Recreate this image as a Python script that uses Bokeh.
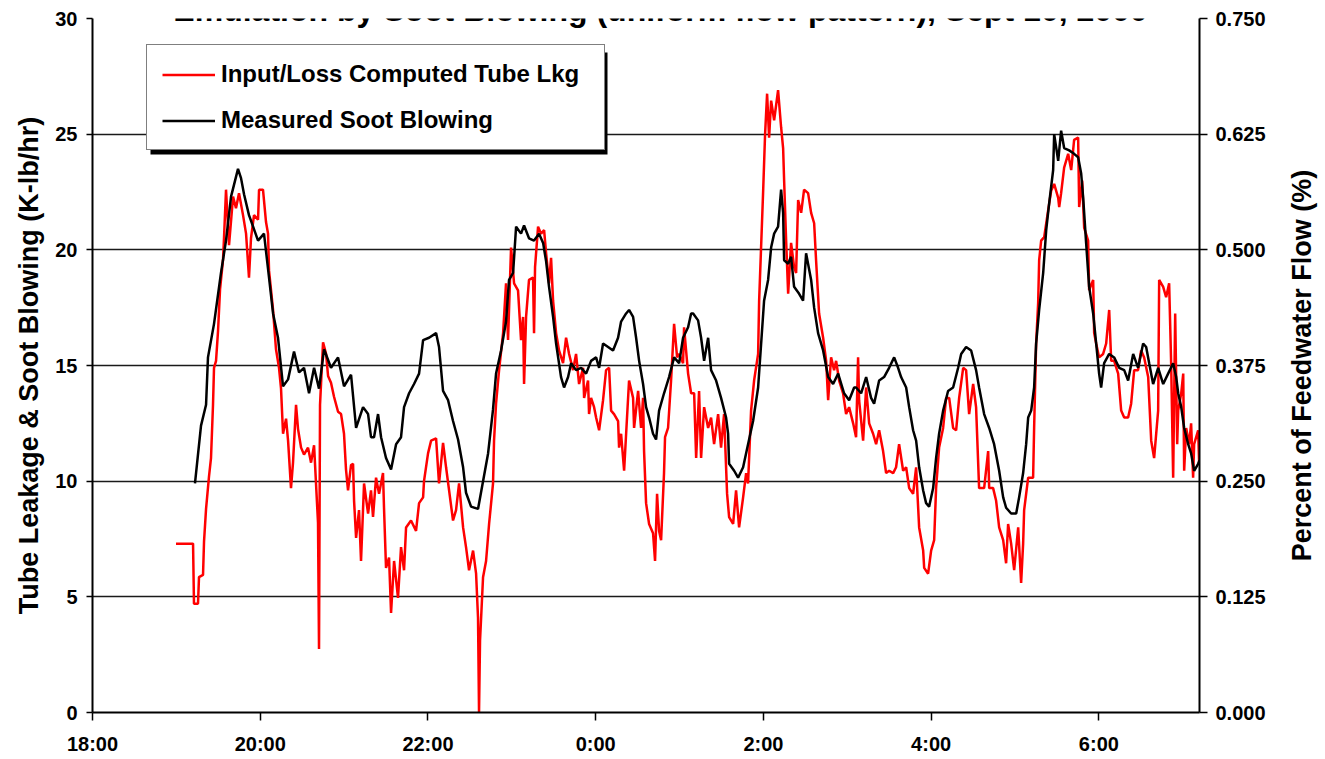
import math
from bokeh.plotting import figure
from bokeh.layouts import row
from bokeh.models import (Range1d, LinearAxis, FixedTicker, PrintfTickFormatter,
                          Legend, LegendItem, BoxAnnotation, Label, ColumnDataSource)
from bokeh.embed import file_html
from bokeh.resources import INLINE

# ---------------- data ----------------
# time axis: hours after 18:00 (Sept 10), ticks every 2 hours
x_tick_hours = [0, 2, 4, 6, 8, 10, 12]
x_tick_labels = ["18:00", "20:00", "22:00", "0:00", "2:00", "4:00", "6:00"]
left_ticks = [0, 5, 10, 15, 20, 25, 30]
right_ticks = [0.0, 0.125, 0.25, 0.375, 0.5, 0.625, 0.75]

# Input/Loss Computed Tube Lkg (K-lb/hr)
red_hours = [
    0.996, 1.199, 1.210, 1.258, 1.270, 1.318, 1.330, 1.354, 1.389, 1.413,
    1.437, 1.449, 1.473, 1.497, 1.521, 1.556, 1.568, 1.592, 1.628, 1.676,
    1.711, 1.747, 1.795, 1.831, 1.866, 1.890, 1.926, 1.974, 1.986, 2.033,
    2.069, 2.093, 2.105, 2.153, 2.188, 2.224, 2.248, 2.272, 2.308, 2.332,
    2.367, 2.391, 2.427, 2.451, 2.487, 2.522, 2.570, 2.606, 2.642, 2.689,
    2.701, 2.713, 2.749, 2.785, 2.809, 2.844, 2.880, 2.928, 2.964, 2.999,
    3.023, 3.047, 3.083,
    3.107, 3.119, 3.143, 3.178, 3.202, 3.238, 3.286, 3.321, 3.345, 3.381,
    3.417, 3.464, 3.476, 3.500, 3.536, 3.560, 3.596, 3.643, 3.679, 3.715,
    3.739, 3.798, 3.858, 3.894, 3.942, 3.953, 4.001, 4.037, 4.097, 4.132,
    4.180, 4.216, 4.252, 4.299, 4.335, 4.371, 4.419, 4.454, 4.490, 4.538,
    4.574, 4.597, 4.609, 4.621, 4.657, 4.693, 4.729, 4.776, 4.788, 4.812,
    4.848, 4.896, 4.931, 4.955, 4.991, 5.027, 5.074, 5.110,
    5.134, 5.146, 5.170, 5.205, 5.253, 5.265, 5.277, 5.313, 5.349, 5.385,
    5.409, 5.444, 5.468, 5.492, 5.528, 5.563, 5.611, 5.647, 5.683, 5.730,
    5.766, 5.802, 5.850, 5.862, 5.909, 5.921, 5.945, 5.981, 6.005, 6.041,
    6.088, 6.124, 6.160, 6.184, 6.219, 6.267, 6.279, 6.303, 6.339, 6.363,
    6.398, 6.446, 6.458, 6.506, 6.541, 6.565, 6.577, 6.601, 6.637, 6.684,
    6.708, 6.732, 6.756, 6.780, 6.815, 6.827, 6.863, 6.899, 6.935, 6.971,
    6.995, 7.042, 7.054, 7.102, 7.138,
    7.174, 7.198, 7.233, 7.257, 7.293, 7.341, 7.376, 7.412, 7.460, 7.495,
    7.531, 7.567, 7.591, 7.639, 7.674, 7.710, 7.758, 7.794, 7.817, 7.853,
    7.889, 7.937, 7.949, 7.996, 8.020, 8.044, 8.068, 8.092, 8.128, 8.175,
    8.211, 8.235, 8.247, 8.271, 8.295, 8.330, 8.366, 8.390, 8.414, 8.450,
    8.485, 8.533, 8.569, 8.605, 8.628, 8.664, 8.712, 8.748, 8.772, 8.807,
    8.843, 8.867, 8.903, 8.950, 8.986, 9.022, 9.070, 9.105,
    9.129, 9.141, 9.189, 9.225, 9.261, 9.308, 9.344, 9.380, 9.427, 9.463,
    9.499, 9.547, 9.582, 9.618, 9.666, 9.702, 9.738, 9.785, 9.821, 9.857,
    9.905, 9.917, 9.964, 10.000, 10.036, 10.059, 10.095, 10.143, 10.179, 10.215,
    10.262, 10.298, 10.334, 10.382, 10.417, 10.453, 10.501, 10.536, 10.572, 10.632,
    10.680, 10.692, 10.739, 10.775, 10.811, 10.859, 10.894, 10.918, 10.954, 10.990,
    11.038, 11.073, 11.097, 11.109,
    11.133, 11.157, 11.216, 11.228, 11.252, 11.276, 11.288, 11.312, 11.348, 11.395,
    11.431, 11.467, 11.515, 11.527, 11.550, 11.586, 11.634, 11.670, 11.705, 11.753,
    11.765, 11.801, 11.825, 11.872, 11.884, 11.932, 11.944, 11.968, 12.003, 12.051,
    12.087, 12.123, 12.147, 12.182, 12.230, 12.266, 12.302, 12.349, 12.385, 12.421,
    12.468, 12.504, 12.540, 12.588, 12.624, 12.659, 12.707, 12.719, 12.767, 12.802,
    12.838, 12.862, 12.886, 12.910, 12.934, 12.946, 12.982, 13.006, 13.017, 13.041,
    13.077, 13.100, 13.124, 13.136, 13.184, 13.196,
]
red_values = [
    7.3, 7.3, 4.7, 4.7, 5.85, 5.95, 7.4, 8.8, 10.2, 11.0,
    13.3, 14.9, 15.2, 16.5, 18.3, 19.55, 20.5, 22.6, 20.2, 22.3,
    21.8, 22.45, 21.5, 20.7, 18.8, 20.5, 21.5, 21.3, 22.6, 22.6,
    21.2, 20.7, 19.1, 17.4, 15.7, 14.9, 14.0, 12.05, 12.7, 11.75,
    9.7, 10.8, 13.3, 12.25, 11.45, 11.15, 11.45, 10.8, 11.55, 8.2,
    2.75, 13.3, 16.0, 15.5, 14.55, 14.25, 13.65, 13.0, 12.9, 12.05,
    10.5, 9.6, 10.7,
    10.75, 9.15, 7.55, 8.75, 6.55, 9.9, 8.6, 9.6, 8.45, 10.15,
    9.45, 10.35, 8.85, 6.25, 6.7, 4.3, 6.55, 4.95, 7.15, 6.15,
    8.0, 8.3, 7.85, 9.05, 9.3, 10.0, 11.2, 11.75, 11.85, 9.9,
    11.65, 10.6, 9.6, 8.3, 8.75, 9.9, 8.0, 7.15, 6.15, 7.0,
    6.0, 4.1, 0.0, 3.1, 5.85, 6.55, 8.15, 9.9, 11.75, 13.35,
    14.8, 16.4, 18.55, 16.1, 20.1, 18.55, 18.25, 16.1,
    17.1, 14.2, 17.1, 18.7, 18.8, 16.4, 19.25, 21.0, 20.7, 20.85,
    19.85, 18.55, 19.65, 17.8, 16.4, 15.65, 15.1, 16.2, 15.5, 14.8,
    15.5, 14.2, 14.9, 13.6, 14.35, 12.9, 13.6, 13.2, 12.75, 12.2,
    13.5, 14.8, 14.9, 13.05, 12.9, 12.6, 11.45, 12.05, 10.45, 12.05,
    14.35, 13.6, 12.3, 13.9, 12.3, 13.6, 11.3, 9.05, 8.15, 7.75,
    6.55, 9.45, 7.85, 7.45, 10.35, 11.9, 12.3, 14.35, 16.8, 15.35,
    15.5, 15.1, 16.65, 14.65, 13.8,
    13.8, 11.0, 13.9, 11.0, 13.2, 12.3, 12.75, 11.6, 12.9, 11.45,
    12.9, 9.45, 8.45, 8.15, 9.6, 8.0, 9.3, 10.35, 9.9, 13.05,
    14.35, 15.5, 17.8, 22.45, 25.0, 26.75, 24.85, 26.45, 25.6, 26.9,
    25.3, 24.4, 23.0, 20.4, 18.1, 20.3, 19.25, 19.0, 22.15, 21.6,
    22.6, 22.45, 21.6, 21.15, 19.55, 17.25, 16.2, 15.2, 13.5, 15.35,
    14.8, 15.2, 14.35, 13.8, 12.9, 13.2, 12.5, 11.9,
    15.35, 13.5, 11.75, 14.05, 12.5, 12.05, 11.6, 12.2, 11.3, 10.35,
    10.45, 10.35, 10.6, 11.6, 10.45, 10.6, 9.7, 9.45, 10.6, 8.0,
    7.0, 6.25, 6.0, 7.0, 7.45, 9.7, 11.45, 12.3, 13.6, 13.6,
    12.3, 12.2, 13.6, 14.9, 14.8, 12.9, 14.2, 13.2, 9.7, 9.7,
    11.3, 9.7, 9.7, 9.15, 8.0, 7.45, 6.45, 8.15, 7.3, 6.15,
    8.0, 5.6, 7.3, 8.75,
    9.45, 10.15, 10.15, 12.3, 15.95, 17.7, 19.55, 20.4, 20.55, 21.7,
    22.55, 22.85, 22.25, 21.85, 22.45, 23.55, 24.15, 23.45, 24.75, 24.85,
    21.85, 23.0, 20.95, 20.4, 18.25, 18.7, 16.4, 15.95, 15.35, 15.5,
    15.95, 17.4, 15.2, 15.2, 14.65, 13.05, 12.75, 12.75, 13.35, 14.8,
    14.8, 15.65, 15.35, 14.5, 11.75, 11.0, 13.05, 18.7, 18.4, 17.95,
    18.55, 15.1, 10.15, 17.25, 11.6, 13.05, 13.8, 14.65, 10.45, 12.3,
    11.6, 12.5, 10.15, 11.6, 12.2, 10.75,
]

# Measured Soot Blowing (K-lb/hr)
black_hours = [
    1.222, 1.294, 1.354, 1.377, 1.449, 1.532, 1.592, 1.652, 1.735, 1.771,
    1.807, 1.866, 1.974, 2.045, 2.105, 2.153, 2.212, 2.272, 2.332, 2.403,
    2.463, 2.522, 2.582, 2.642, 2.701, 2.761, 2.844, 2.928, 2.999, 3.083,
    3.143, 3.226, 3.286, 3.321, 3.357, 3.405, 3.441, 3.500, 3.560, 3.620,
    3.679, 3.715, 3.775, 3.834, 3.894, 3.942, 4.013, 4.097, 4.132, 4.180,
    4.240, 4.299, 4.359, 4.419, 4.454, 4.514, 4.597, 4.657, 4.717, 4.776,
    4.812, 4.872, 4.931, 4.967, 5.015, 5.051, 5.110,
    5.146, 5.205, 5.265, 5.325, 5.373, 5.409, 5.444, 5.492, 5.528, 5.587,
    5.623, 5.671, 5.707, 5.766, 5.826, 5.886, 5.945, 6.005, 6.041, 6.088,
    6.148, 6.207, 6.267, 6.303, 6.363, 6.398, 6.446, 6.482, 6.518, 6.565,
    6.601, 6.637, 6.684, 6.720, 6.756, 6.815, 6.875, 6.935, 6.995, 7.042,
    7.102, 7.138,
    7.162, 7.221, 7.257, 7.293, 7.341, 7.376, 7.436, 7.495, 7.555, 7.579,
    7.591, 7.651, 7.698, 7.758, 7.817, 7.877, 7.937, 7.973, 8.008, 8.056,
    8.092, 8.128, 8.175, 8.211, 8.235, 8.247, 8.295, 8.330, 8.366, 8.426,
    8.473, 8.509, 8.569, 8.605, 8.652, 8.712, 8.772, 8.831, 8.891, 8.962,
    9.022, 9.082,
    9.105, 9.165, 9.225, 9.284, 9.320, 9.380, 9.439, 9.499, 9.559, 9.606,
    9.642, 9.702, 9.738, 9.785, 9.821, 9.857, 9.905, 9.940, 9.976, 10.024,
    10.059, 10.095, 10.143, 10.202, 10.262, 10.322, 10.358, 10.417, 10.477, 10.536,
    10.572, 10.632, 10.692, 10.751, 10.811, 10.859, 10.894, 10.954, 11.014, 11.049,
    11.097,
    11.133, 11.157, 11.193, 11.228, 11.252, 11.288, 11.336, 11.372, 11.407, 11.455,
    11.467, 11.515, 11.550, 11.586, 11.646, 11.705, 11.753, 11.789, 11.813, 11.848,
    11.884, 11.932, 11.968, 12.003, 12.027, 12.063, 12.123, 12.182, 12.242, 12.302,
    12.349, 12.409, 12.468, 12.528, 12.564, 12.600, 12.647, 12.707, 12.767, 12.826,
    12.886, 12.922, 12.946, 12.982, 13.017, 13.065, 13.100, 13.136, 13.184, 13.200,
]
black_values = [
    9.9, 12.4, 13.3, 15.35, 16.8, 19.0, 20.4, 22.3, 23.5, 23.1,
    22.4, 21.5, 20.4, 20.7, 18.8, 17.25, 16.2, 14.1, 14.4, 15.6,
    14.7, 14.9, 13.8, 14.9, 14.0, 15.7, 14.9, 15.35, 14.1, 14.6,
    12.3, 13.2, 12.9, 11.9, 11.9, 12.9, 11.9, 11.0, 10.5, 11.6,
    11.9, 13.2, 13.8, 14.2, 14.65, 16.1, 16.2, 16.4, 15.8, 13.9,
    13.5, 12.6, 11.8, 10.6, 9.5, 8.9, 8.8, 10.0, 11.2, 13.1,
    14.65, 15.65, 16.9, 18.7, 19.0, 21.0, 20.7,
    21.05, 20.5, 20.4, 20.7, 20.3, 19.5, 18.4, 17.1, 15.95, 14.5,
    14.05, 14.5, 15.1, 14.8, 14.9, 14.65, 15.2, 15.35, 14.9, 15.95,
    15.8, 15.65, 16.2, 16.9, 17.25, 17.4, 17.1, 16.2, 15.2, 14.2,
    13.2, 12.75, 12.05, 11.8, 13.05, 13.8, 14.5, 15.35, 15.1, 16.2,
    16.65, 17.25,
    17.25, 16.95, 16.2, 15.2, 16.2, 14.8, 14.35, 13.6, 12.75, 12.05,
    10.75, 10.45, 10.15, 10.6, 11.6, 12.6, 14.05, 15.95, 17.8, 18.7,
    20.1, 20.7, 21.0, 22.6, 21.6, 19.55, 19.4, 19.7, 18.4, 18.1,
    17.8, 19.85, 18.7, 17.5, 16.4, 15.65, 14.5, 14.2, 14.65, 13.8,
    13.5, 14.05,
    14.05, 13.8, 14.5, 13.6, 13.35, 14.35, 14.5, 14.9, 15.35, 14.9,
    14.5, 14.05, 13.2, 12.2, 11.75, 10.6, 9.6, 9.05, 8.9, 9.7,
    11.0, 12.05, 13.05, 13.9, 14.05, 14.9, 15.5, 15.8, 15.65, 14.8,
    14.05, 12.9, 12.3, 11.6, 10.45, 9.3, 8.85, 8.6, 8.6, 9.3,
    10.35,
    11.6, 12.75, 13.05, 14.05, 15.95, 17.4, 19.0, 20.85, 22.0, 23.45,
    25.0, 23.85, 25.15, 24.4, 24.3, 24.15, 24.0, 23.3, 22.25, 20.3,
    18.4, 17.25, 15.95, 14.65, 14.05, 15.1, 15.5, 15.35, 14.9, 14.8,
    14.35, 15.5, 14.9, 15.95, 15.8, 15.1, 14.2, 14.9, 14.2, 14.65,
    15.1, 14.5, 13.8, 13.2, 12.3, 11.6, 11.2, 10.45, 10.75, 10.9,
]

X_MAX = 13.2      # 07:12
Y_MAX = 30.0
PCT_MAX = 0.75

title_text = "Emulation by Soot Blowing (uniform flow pattern), Sept 10, 2000"
left_label = "Tube Leakage & Soot Blowing (K-lb/hr)"
right_label = "Percent of Feedwater Flow (%)"
series_names = ["Input/Loss Computed Tube Lkg", "Measured Soot Blowing"]

# ---------------- layout ----------------
FRAME_W, FRAME_H = 1107, 694
TOP, BOTTOM = 18, 43
FONT = "Liberation Sans"

p = figure(frame_width=FRAME_W, frame_height=FRAME_H,
           x_range=Range1d(0, X_MAX), y_range=Range1d(0, Y_MAX),
           output_backend="svg", toolbar_location=None,
           min_border_left=92, min_border_right=80,
           min_border_top=TOP, min_border_bottom=BOTTOM)
p.extra_y_ranges = {"pct": Range1d(0, PCT_MAX)}
p.outline_line_color = None
p.background_fill_color = "white"
p.border_fill_color = "white"

p.xgrid.visible = False
p.ygrid.ticker = FixedTicker(ticks=left_ticks)
p.ygrid.grid_line_color = "#1a1a1a"
p.ygrid.grid_line_width = 1.4

def style_axis(ax, tick_out, standoff):
    ax.minor_tick_line_color = None
    ax.major_tick_out = tick_out
    ax.major_tick_in = 0
    ax.axis_line_color = "black"
    ax.axis_line_width = 2
    ax.major_tick_line_color = "black"
    ax.major_tick_line_width = 1.5
    ax.major_label_text_font = FONT
    ax.major_label_text_font_style = "bold"
    ax.major_label_text_font_size = "20px"
    ax.major_label_text_color = "black"
    ax.major_label_standoff = standoff
    ax.axis_label_text_font = FONT
    ax.axis_label_text_font_style = "bold"
    ax.axis_label_text_font_size = "27px"
    ax.axis_label_text_color = "black"

xa = p.xaxis[0]
xa.ticker = FixedTicker(ticks=x_tick_hours)
xa.major_label_overrides = {h: lab for h, lab in zip(x_tick_hours, x_tick_labels)}
style_axis(xa, 8, 12)

ya = p.yaxis[0]
ya.ticker = FixedTicker(ticks=left_ticks)
ya.axis_label = left_label
style_axis(ya, 6, 9)
ya.axis_label_standoff = 8

ra = LinearAxis(y_range_name="pct", ticker=FixedTicker(ticks=right_ticks),
                formatter=PrintfTickFormatter(format="%.3f"))
style_axis(ra, 8, 8)
p.add_layout(ra, "right")

red_src = ColumnDataSource(dict(t=red_hours, v=red_values))
black_src = ColumnDataSource(dict(t=black_hours, v=black_values))
r_red = p.line("t", "v", source=red_src, line_color="#FF0000", line_width=2.5)
r_black = p.line("t", "v", source=black_src, line_color="black", line_width=2.5)

px_to_x = X_MAX / FRAME_W
px_to_y = Y_MAX / FRAME_H

# legend placement (pixels from frame bottom-left)
LEG_X, LEG_Y, LEG_W, LEG_H, SHADOW = 54, 562, 457, 102, 4
shadow = BoxAnnotation(left=(LEG_X + SHADOW) * px_to_x, right=(LEG_X + LEG_W + SHADOW) * px_to_x,
                       bottom=(LEG_Y - SHADOW) * px_to_y, top=(LEG_Y + LEG_H - SHADOW) * px_to_y,
                       fill_color="black", fill_alpha=1.0, line_alpha=0)
p.add_layout(shadow)

legend = Legend(items=[LegendItem(label=series_names[0], renderers=[r_red]),
                       LegendItem(label=series_names[1], renderers=[r_black])],
                location=(LEG_X, LEG_Y), margin=0, padding=15, spacing=18,
                glyph_width=53, glyph_height=27, label_height=27, label_width=368,
                label_standoff=6, label_text_font=FONT, label_text_font_style="bold",
                label_text_font_size="24px", label_text_color="black",
                border_line_color="black", border_line_width=1.5,
                background_fill_color="white", background_fill_alpha=1.0)
p.add_layout(legend, "center")

# title, partly cut off by the top edge as in the original picture
title = Label(x=568 * px_to_x, y=Y_MAX + 9 * px_to_y, text=title_text,
              text_align="center", text_baseline="alphabetic",
              text_font=FONT, text_font_style="bold", text_font_size="32px",
              text_color="black")
p.add_layout(title)

# narrow companion panel carrying the right-hand axis title (reads bottom-to-top)
p2 = figure(frame_width=2, frame_height=FRAME_H,
            x_range=Range1d(0, 1), y_range=Range1d(0, PCT_MAX),
            output_backend="svg", toolbar_location=None, x_axis_location=None,
            min_border_left=40, min_border_right=0,
            min_border_top=TOP, min_border_bottom=BOTTOM)
p2.outline_line_color = None
p2.background_fill_color = "white"
p2.border_fill_color = "white"
p2.grid.visible = False
ax2 = p2.yaxis[0]
ax2.ticker = FixedTicker(ticks=[])
ax2.axis_line_color = None
ax2.major_tick_line_color = None
ax2.minor_tick_line_color = None
ax2.major_label_text_font_size = "0px"
ax2.axis_label = right_label
ax2.axis_label_standoff = 3
ax2.axis_label_text_font = FONT
ax2.axis_label_text_font_style = "bold"
ax2.axis_label_text_font_size = "27px"
ax2.axis_label_text_color = "black"

layout = row(p, p2)
open("out.html", "w").write(file_html(layout, INLINE))
